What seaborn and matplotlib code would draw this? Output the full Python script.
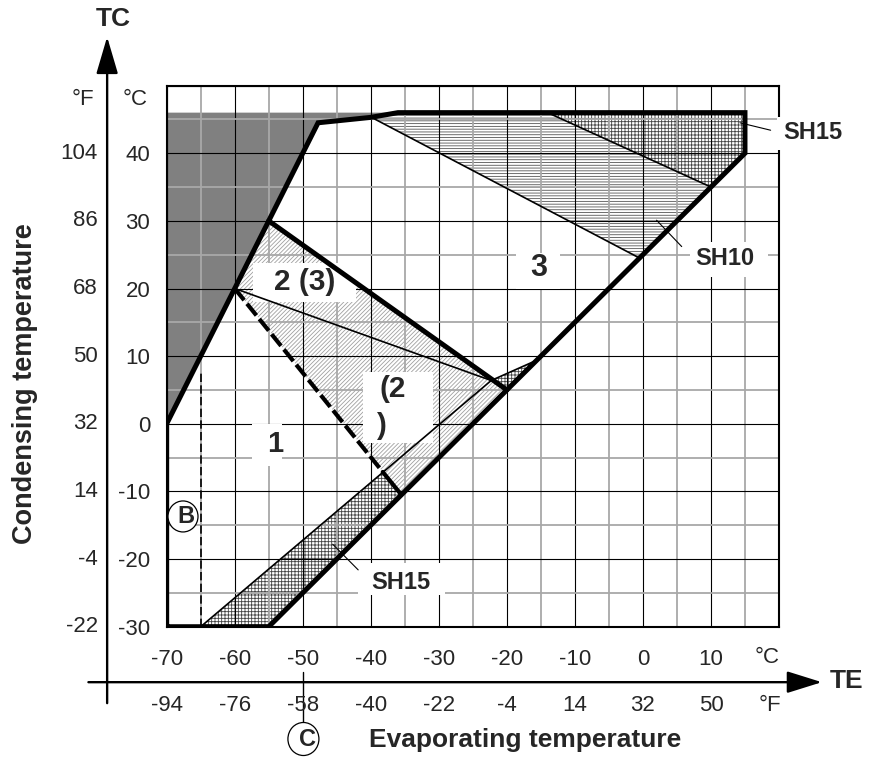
import numpy as np
import matplotlib
matplotlib.use('Agg')
import matplotlib.pyplot as plt
import seaborn as sns
from matplotlib.patches import Rectangle, Ellipse

sns.set_style('white')
plt.rcParams['font.family'] = ['Liberation Sans', 'DejaVu Sans']
plt.rcParams['hatch.linewidth'] = 0.6

# ---------------- data ----------------
te_ticks_c = [-70, -60, -50, -40, -30, -20, -10, 0, 10]
te_ticks_f = ['-94', '-76', '-58', '-40', '-22', '-4', '14', '32', '50']
tc_ticks_c = [-30, -20, -10, 0, 10, 20, 30, 40]
tc_ticks_f = ['-22', '-4', '14', '32', '50', '68', '86', '104']

# operating envelope (thick outline)
env_te = [-70, -70, -60, -55, -47.75, -40, -36, 15, 15, -55, -70]
env_tc = [-30, 0, 20, 30, 44.5, 45.3, 46, 46, 40, -30, -30]

# dark (not allowed) area
dark_te = [-70, -47.75, -40, -36, -70]
dark_tc = [0, 44.5, 45.3, 46, 46]

# zone 2 (light hatch)
z2_te = [-55, -20, -35.5, -60]
z2_tc = [30, 5, -10.5, 20]

# SH15 zones (cross hatch)
sh15_low_te = [-65, -55, -35.5, -38.24]
sh15_low_tc = [-30, -30, -10.5, -7.12]
sh15_mid_te = [-22.3, -15.6, -20]
sh15_mid_tc = [6.4, 9.4, 5]
sh15_top_te = [-14, 15, 15, 10]
sh15_top_tc = [46, 46, 40, 35]

# SH10 zone (horizontal hatch)
sh10_te = [-39.7, -36, -14, 10, -0.5]
sh10_tc = [45.2, 46, 46, 35, 24.5]

# internal lines
mid_thick_te = [-55, -20]
mid_thick_tc = [30, 5]
dash_thick_te = [-60, -38.24]
dash_thick_tc = [20, -7.12]
end_thick_te = [-38.24, -35.5]
end_thick_tc = [-7.12, -10.5]
thin_a_te = [-60, -22.3]
thin_a_tc = [20, 6.4]
thin_b_te = [-65, -22.3, -15.6]
thin_b_tc = [-30, 6.4, 9.4]
thin_sh10_te = [-39.7, -0.5]
thin_sh10_tc = [45.2, 24.5]
thin_sh15_te = [-14, 10]
thin_sh15_tc = [46, 35]
limit_b_te = [-65, -65]
limit_b_tc = [-30, 7.5]

# ---------------- figure ----------------
fig = plt.figure(figsize=(8.74, 7.58), dpi=100)
ax = fig.add_axes([0.1907, 0.1732, 0.7006, 0.7139])
ax.set_xlim(-70, 20)
ax.set_ylim(-30, 50)

# fills
ax.fill(dark_te, dark_tc, facecolor='#808080', edgecolor='none', lw=0, zorder=1)
ax.fill(z2_te, z2_tc, facecolor='white', edgecolor='#a0a0a0', hatch='////////', lw=0, zorder=1)
for xs, ys in [(sh15_low_te, sh15_low_tc), (sh15_mid_te, sh15_mid_tc), (sh15_top_te, sh15_top_tc)]:
    ax.fill(xs, ys, facecolor='white', edgecolor='#444444', hatch='+++++', lw=0, zorder=1.1)
ax.fill(sh10_te, sh10_tc, facecolor='white', edgecolor='#555555', hatch='------', lw=0, zorder=1)

# grid & ticks
ax.set_axisbelow('line')
ax.set_xticks(list(range(-70, 21, 10)))
ax.set_xticklabels([str(v) for v in te_ticks_c] + [''])
ax.set_xticks(list(range(-65, 20, 10)), minor=True)
ax.set_yticks(list(range(-30, 51, 10)))
ax.set_yticklabels([str(v) for v in tc_ticks_c] + [''])
ax.set_yticks(list(range(-25, 50, 10)), minor=True)
ax.grid(which='major', color='black', lw=0.8)
ax.grid(which='minor', color='#a8a8a8', lw=1.3)
ax.tick_params(which='both', direction='out', length=10.8, width=1.5, color='black')
ax.tick_params(axis='x', which='major', pad=5, labelsize=16)
ax.tick_params(axis='y', which='major', pad=1, labelsize=16)
for s in ax.spines.values():
    s.set_linewidth(1.5)
    s.set_color('black')

# label boxes (white)
boxes = [(-57.5, -6.2, 4.4, 6.2), (-57.3, 18.05, 15.2, 5.65), (-41.1, -2.9, 10.3, 10.6),
         (-18.6, 20.0, 6.4, 5.2), (6.9, 21.75, 11.5, 5.15), (-41.9, -25.3, 12.8, 4.7)]
for bx, by, bw, bh in boxes:
    ax.add_patch(Rectangle((bx, by), bw, bh, facecolor='white', edgecolor='none', zorder=1.8))
ax.add_patch(Rectangle((19.65, 40.5), 10.0, 4.9, facecolor='white', edgecolor='none',
                       zorder=3, clip_on=False))

# lines
kw = dict(sort=False, estimator=None, color='black', ax=ax, legend=False)
sns.lineplot(x=env_te, y=env_tc, lw=3.6, zorder=4, solid_joinstyle='miter', **kw)
sns.lineplot(x=mid_thick_te, y=mid_thick_tc, lw=3.6, zorder=4, **kw)
sns.lineplot(x=dash_thick_te, y=dash_thick_tc, lw=3.0, zorder=4, linestyle=(0, (3.6, 1.1)), **kw)
sns.lineplot(x=end_thick_te, y=end_thick_tc, lw=3.0, zorder=4, **kw)
for xs, ys in [(thin_a_te, thin_a_tc), (thin_b_te, thin_b_tc), (thin_sh10_te, thin_sh10_tc),
               (thin_sh15_te, thin_sh15_tc)]:
    sns.lineplot(x=xs, y=ys, lw=1.2, zorder=3.5, **kw)
sns.lineplot(x=limit_b_te, y=limit_b_tc, lw=1.2, zorder=3.5, linestyle=(0, (5, 2)), **kw)

# pointer lines
for (x0, y0, x1, y1) in [(2.0, 30.1, 5.7, 26.2), (14.26, 44.5, 18.77, 43.4), (-45.6, -17.8, -41.85, -21.6)]:
    ax.plot([x0, x1], [y0, y1], color='black', lw=0.8, zorder=5, clip_on=False)

# zone labels
bold = dict(fontweight='bold', ha='center', va='center', zorder=6)
ax.text(-54.1, -3.06, '1', fontsize=21, **bold)
ax.text(-49.7, 20.97, '2 (3)', fontsize=21.5, **bold)
ax.text(-36.8, 5.2, '(2', fontsize=21.5, **bold)
ax.text(-38.5, -0.4, ')', fontsize=21.5, **bold)
ax.text(-15.3, 23.1, '3', fontsize=22, **bold)
ax.text(12.05, 24.5, 'SH10', fontsize=17, **bold)
ax.text(25.0, 43.0, 'SH15', fontsize=17, clip_on=False, **bold)
ax.text(-35.6, -23.5, 'SH15', fontsize=17, **bold)

# B circle
ax.add_patch(Ellipse((-67.6, -13.7), 30 / 6.803, 31 / 6.763, facecolor='white', edgecolor='black',
                     lw=0.9, zorder=5))
ax.text(-67.1, -13.7, 'B', fontsize=17, **bold)

# axes arrows
ax.annotate('', xy=(-78.75, 57.2), xytext=(-78.75, -41.3),
            arrowprops=dict(arrowstyle='-|>,head_length=0.85,head_width=0.25', lw=1.7,
                            color='black', mutation_scale=27, shrinkA=0, shrinkB=0),
            annotation_clip=False)
ax.annotate('', xy=(26.3, -38.2), xytext=(-81.5, -38.2),
            arrowprops=dict(arrowstyle='-|>,head_length=0.8,head_width=0.25', lw=1.7,
                            color='black', mutation_scale=27, shrinkA=0, shrinkB=0),
            annotation_clip=False)
ax.text(-77.9, 59.9, 'TC', fontsize=19, fontweight='bold', ha='center', va='center', clip_on=False)
ax.text(27.5, -38.0, 'TE', fontsize=19, fontweight='bold', ha='left', va='center', clip_on=False)

# Fahrenheit labels
for v, lab in zip(tc_ticks_c, tc_ticks_f):
    ax.text(-80.1, v, lab, fontsize=16, ha='right', va='center', clip_on=False)
for v, lab in zip(te_ticks_c, te_ticks_f):
    ax.text(v, -41.7, lab, fontsize=16, ha='center', va='center', clip_on=False, zorder=6)
ax.text(-82.3, 47.9, '°F', fontsize=16, ha='center', va='center', clip_on=False)
ax.text(-74.7, 47.9, '°C', fontsize=16, ha='center', va='center', clip_on=False)
ax.text(18.2, -34.6, '°C', fontsize=16, ha='center', va='center', clip_on=False)
ax.text(18.65, -41.7, '°F', fontsize=16, ha='center', va='center', clip_on=False)

# C marker
ax.plot([-50, -50], [-36.7, -44.3], color='black', lw=1.0, clip_on=False, zorder=5)
ax.add_patch(Ellipse((-49.9, -46.6), 31 / 6.803, 33 / 6.763, facecolor='white', edgecolor='black',
                     lw=0.9, zorder=5, clip_on=False))
ax.text(-49.3, -46.6, 'C', fontsize=17, clip_on=False, **bold)

# axis titles
ax.text(-90.8, 6.0, 'Condensing temperature', fontsize=19.5, fontweight='bold', rotation=90,
        ha='center', va='center', clip_on=False)
ax.text(-17.35, -46.7, 'Evaporating temperature', fontsize=19, fontweight='bold',
        ha='center', va='center', clip_on=False)

ax.set_xlabel('')
ax.set_ylabel('')
fig.savefig('out.png', dpi=100)
